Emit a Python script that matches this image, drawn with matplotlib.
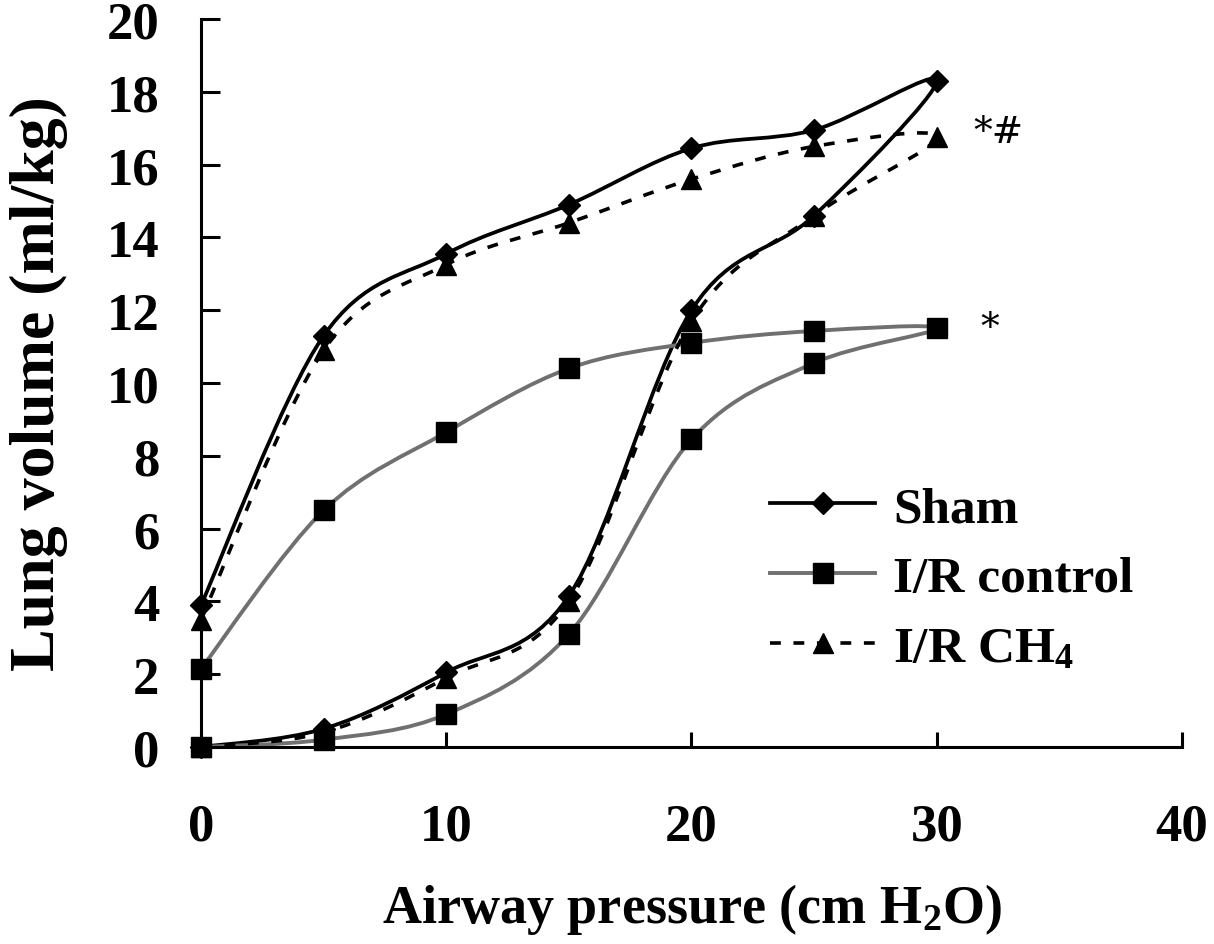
import matplotlib
matplotlib.use("Agg")
import matplotlib.pyplot as plt
import numpy as np
from matplotlib.path import Path
from matplotlib.patches import PathPatch
from matplotlib.lines import Line2D

# pressure goes up to 30 (inflation) then back down (deflation)
pressure = [0, 5, 10, 15, 20, 25, 30, 25, 20, 15, 10, 5, 0]
sham = [0.0, 0.5, 2.05, 4.15, 12.0, 14.6, 18.3, 16.95, 16.45, 14.9, 13.55, 11.3, 3.9]
ir_control = [0.0, 0.2, 0.9, 3.1, 8.45, 10.55, 11.5, 11.43, 11.1, 10.4, 8.65, 6.5, 2.15]
ir_ch4 = [0.0, 0.4, 1.9, 4.0, 11.7, 14.6, 16.75, 16.5, 15.6, 14.4, 13.25, 10.9, 3.5]

series_names = ["Sham", "I/R control", "I/R CH$_4$"]
marks = [("*#", 31.5, 16.9), ("*", 31.8, 11.5)]

plt.rcParams['font.family'] = ['Liberation Serif', 'DejaVu Serif']
plt.rcParams['mathtext.fontset'] = 'custom'
plt.rcParams['mathtext.rm'] = 'Liberation Serif:bold'
plt.rcParams['mathtext.it'] = 'Liberation Serif:bold'


def smooth_path(xs, ys):
    # excel-like smoothed line: catmull-rom segments as cubic beziers
    pts = np.column_stack([xs, ys]).astype(float)
    n = len(pts)
    verts = [pts[0]]
    codes = [Path.MOVETO]
    for i in range(n - 1):
        p0 = pts[max(i - 1, 0)]
        p1 = pts[i]
        p2 = pts[i + 1]
        p3 = pts[min(i + 2, n - 1)]
        verts += [p1 + (p2 - p0) / 6.0, p2 - (p3 - p1) / 6.0, p2]
        codes += [Path.CURVE4] * 3
    return Path(verts, codes)


fig = plt.figure(figsize=(12.14, 9.45), dpi=100)
ax = fig.add_axes([0.1656, 0.2085, 0.808, 0.7703])

styles = [
    dict(color='black', lw=2.7, ls='-', marker='D', ms=11),
    dict(color='#707070', lw=2.8, ls='-', marker='s', ms=15),
    dict(color='black', lw=2.6, ls=(0, (3, 3.5)), marker='^', ms=14),
]
handles = []
for yv, st, name in zip([sham, ir_control, ir_ch4], styles, series_names):
    patch = PathPatch(smooth_path(pressure, yv), fill=False, edgecolor=st['color'],
                      lw=st['lw'], linestyle=st['ls'], clip_on=False, capstyle='butt')
    ax.add_patch(patch)
    ax.plot(pressure, yv, ls='none', marker=st['marker'], ms=st['ms'],
            color='black', clip_on=False, zorder=3)
    handles.append(Line2D([], [], color=st['color'], lw=st['lw'], ls=st['ls'],
                          marker=st['marker'], ms=st['ms'], markerfacecolor='black',
                          markeredgecolor='black'))

for txt, xx, yy in marks:
    ax.text(xx, yy, txt, fontsize=27, va='center', ha='left', family='DejaVu Serif')

ax.set_xlim(0, 40)
ax.set_ylim(0, 20)
ax.set_xticks([0, 10, 20, 30, 40])
ax.set_yticks(range(0, 21, 2))
for side in ['top', 'right']:
    ax.spines[side].set_visible(False)
for side in ['left', 'bottom']:
    ax.spines[side].set_linewidth(2.2)
ax.tick_params(axis='x', direction='in', length=11, width=2.2, pad=40, labelsize=38)
ax.tick_params(axis='y', direction='in', length=14, width=2.2, pad=30, labelsize=38)
for lab in ax.get_xticklabels() + ax.get_yticklabels():
    lab.set_fontweight('bold')

ax.set_xlabel("Airway pressure (cm H$_2$O)", fontsize=39, fontweight='bold', labelpad=22)
ax.set_ylabel("Lung volume (ml/kg)", fontsize=46, fontweight='bold', labelpad=28)

leg = ax.legend(handles, series_names, loc='upper left', bbox_to_anchor=(0.533, 0.423),
                frameon=False, handlelength=2.05, numpoints=1, labelspacing=0.45,
                handletextpad=0.35, prop={'size': 37, 'weight': 'bold'})

fig.savefig("out.png", dpi=100)
